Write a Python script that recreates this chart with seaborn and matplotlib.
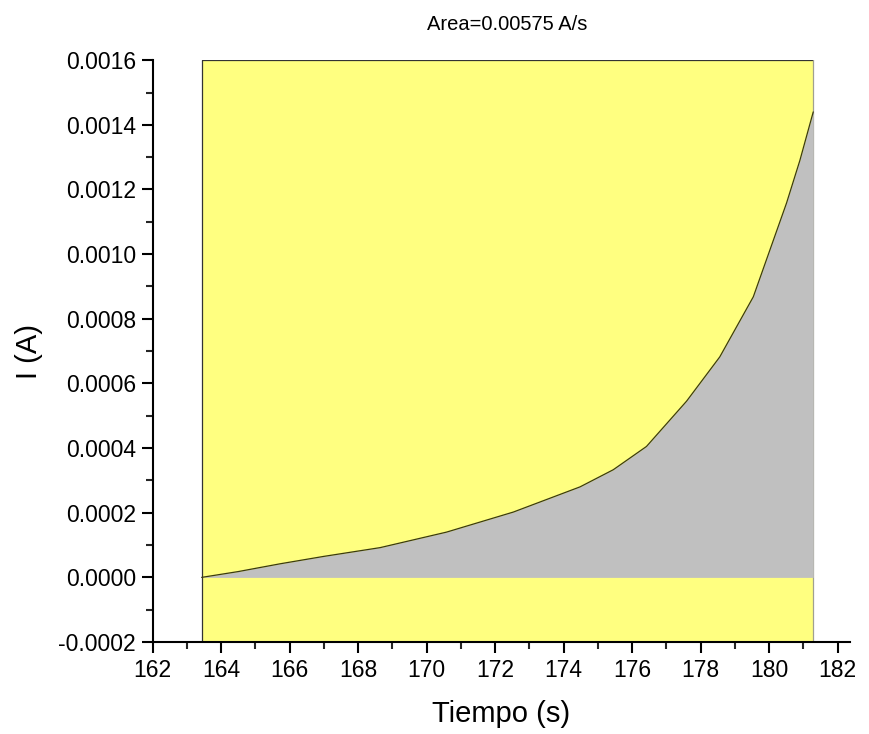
import numpy as np
import pandas as pd
import matplotlib
matplotlib.use("Agg")
import matplotlib.pyplot as plt
import seaborn as sns
from matplotlib.ticker import MultipleLocator, FormatStrFormatter

# datos
tiempo = [163.43, 164.5, 165.72, 167.0, 168.64, 170.58, 172.53, 174.48, 175.45,
          176.42, 177.59, 178.56, 179.54, 180.51, 180.9, 181.29]
corriente = [0.0, 0.000018, 0.000042, 0.000065, 0.000092, 0.00014, 0.000202, 0.00028, 0.000333,
             0.000405, 0.000545, 0.000682, 0.000868, 0.001158, 0.00129, 0.00144]
area_txt = "Area=0.00575 A/s"

df = pd.DataFrame({"Tiempo (s)": tiempo, "I (A)": corriente})

sns.set_style("ticks")
plt.rcParams['font.family'] = ['Liberation Sans', 'DejaVu Sans']
plt.rcParams['text.color'] = 'black'
plt.rcParams['axes.labelcolor'] = 'black'

fig = plt.figure(figsize=(8.69, 7.34), dpi=100)
ax = fig.add_axes([0.1757, 0.1253, 0.978 - 0.1757, 0.918 - 0.1253])

ymin, ymax = -0.0002, 0.0016
t0, t1 = tiempo[0], tiempo[-1]

# rectangulo amarillo de integracion
ax.fill_between([t0, t1], ymin, ymax, color="#FFFF80", zorder=1, linewidth=0)
ax.plot([t0, t0, t1], [ymin, ymax, ymax], color="#333333", lw=0.9, zorder=2)
ax.plot([t1, t1], [ymin, ymax], color="#a0a090", lw=0.9, zorder=2)

# area bajo la curva
ax.fill_between(df["Tiempo (s)"], 0, df["I (A)"], color="#C0C0C0", zorder=3, linewidth=0)
sns.lineplot(data=df, x="Tiempo (s)", y="I (A)", ax=ax, color="#3a3a10", lw=0.9, zorder=4)

ax.set_xlim(162, 182.36)
ax.set_ylim(ymin, ymax)
ax.xaxis.set_major_locator(MultipleLocator(2))
ax.xaxis.set_minor_locator(MultipleLocator(1))
ax.yaxis.set_major_locator(MultipleLocator(0.0002))
ax.yaxis.set_minor_locator(MultipleLocator(0.0001))
ax.yaxis.set_major_formatter(FormatStrFormatter("%.4f"))

sns.despine(ax=ax)
for s in ["left", "bottom"]:
    ax.spines[s].set_linewidth(1.5)
    ax.spines[s].set_color("black")
ax.tick_params(which="major", direction="out", length=8, width=1.5, labelsize=16.5, pad=4,
               colors="black")
ax.tick_params(which="minor", direction="out", length=5, width=1.5)

ax.set_xlabel("Tiempo (s)", fontsize=21)
ax.set_ylabel("I (A)", fontsize=21)
ax.xaxis.set_label_coords(0.5, -0.1)
ax.yaxis.set_label_coords(-0.158, 0.5)

ax.text((t0 + t1) / 2, 0.00168, area_txt, ha="center", va="bottom", fontsize=14.5)

fig.savefig("out.png", dpi=100)
